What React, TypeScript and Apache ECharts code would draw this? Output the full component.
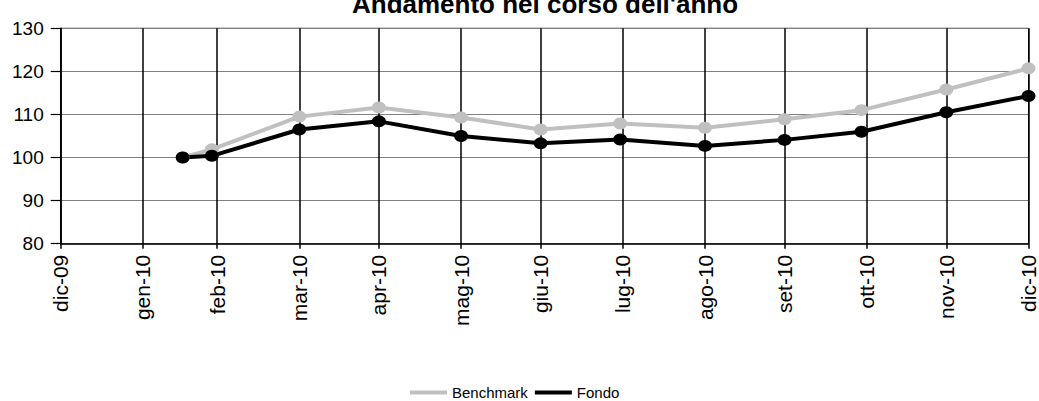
import React, { useEffect, useRef } from "react";
import * as echarts from "echarts";

const titleText = "Andamento nel corso dell'anno";

const pointDates = [
  "2010-02-15", "2010-02-26", "2010-03-31", "2010-04-30", "2010-05-31", "2010-06-30",
  "2010-07-30", "2010-08-31", "2010-09-30", "2010-10-29", "2010-11-30", "2010-12-31",
];
const benchmarkValues = [100, 101.9, 109.5, 111.6, 109.3, 106.5, 107.9, 106.9, 108.9, 111.0, 115.8, 120.7];
const fondoValues = [100, 100.4, 106.5, 108.4, 105.0, 103.3, 104.2, 102.7, 104.1, 106.0, 110.5, 114.3];

const tickDates = [
  "2009-12-31", "2010-01-31", "2010-02-28", "2010-03-31", "2010-04-30", "2010-05-31", "2010-06-30",
  "2010-07-31", "2010-08-31", "2010-09-30", "2010-10-31", "2010-11-30", "2010-12-31",
];
const tickLabels = [
  "dic-09", "gen-10", "feb-10", "mar-10", "apr-10", "mag-10", "giu-10",
  "lug-10", "ago-10", "set-10", "ott-10", "nov-10", "dic-10",
];

const yMin = 80;
const yMax = 130;
const yStep = 10;

// day number (days since 1970-01-01, UTC) so the axis is a plain value axis
function toDay(s: string): number {
  const [y, m, d] = s.split("-").map(Number);
  return Date.UTC(y, m - 1, d) / 86400000;
}

export default function App() {
  const ref = useRef<HTMLDivElement>(null);

  useEffect(() => {
    if (!ref.current) return;
    const chart = echarts.init(ref.current, undefined, { renderer: "svg" });
    const tickDays = tickDates.map(toDay);
    const font = "Liberation Sans";

    chart.setOption({
      animation: false,
      backgroundColor: "#ffffff",
      title: {
        text: titleText,
        left: 347,
        top: -14,
        textStyle: { fontFamily: font, fontSize: 26, fontWeight: "bold", color: "#000" },
      },
      legend: {
        left: 405,
        top: 380,
        icon: "rect",
        itemWidth: 37,
        itemHeight: 4,
        itemGap: 7,
        textStyle: { fontFamily: font, fontSize: 15, color: "#000" },
        data: ["Benchmark", "Fondo"],
      },
      grid: {
        left: 60.7,
        right: 9,
        top: 28.3,
        bottom: 157.3,
        show: true,
        borderColor: "#000",
        borderWidth: 1,
      },
      xAxis: {
        type: "value",
        min: tickDays[0],
        max: tickDays[tickDays.length - 1],
        axisLine: { show: true, onZero: false, lineStyle: { color: "#000", width: 1.5 } },
        axisTick: {
          show: true,
          length: 5,
          inside: false,
          customValues: tickDays,
          lineStyle: { color: "#000", width: 1.5 },
        },
        splitLine: { show: true, lineStyle: { color: "#000", width: 1.5 } },
        axisLabel: {
          customValues: tickDays,
          rotate: 90,
          margin: 11,
          fontFamily: font,
          fontSize: 21,
          color: "#000",
          showMinLabel: true,
          showMaxLabel: true,
          formatter: (val: number) => {
            let best = 0;
            let bd = Infinity;
            tickDays.forEach((t, i) => {
              const d = Math.abs(t - val);
              if (d < bd) { bd = d; best = i; }
            });
            return tickLabels[best];
          },
        },
      },
      yAxis: {
        type: "value",
        min: yMin,
        max: yMax,
        interval: yStep,
        axisLine: { show: true, lineStyle: { color: "#000", width: 1.5 } },
        axisTick: { show: true, length: 10, lineStyle: { color: "#000", width: 1.2 } },
        splitLine: { show: true, lineStyle: { color: "#808080", width: 1.2 } },
        axisLabel: { margin: 17, fontFamily: font, fontSize: 19, color: "#000" },
      },
      series: [
        {
          name: "Benchmark",
          type: "line",
          data: pointDates.map((d, i) => [toDay(d), benchmarkValues[i]]),
          symbol: "circle",
          symbolSize: [14, 12],
          showSymbol: true,
          itemStyle: { color: "#c0c0c0" },
          lineStyle: { color: "#c0c0c0", width: 4 },
        },
        {
          name: "Fondo",
          type: "line",
          data: pointDates.map((d, i) => [toDay(d), fondoValues[i]]),
          symbol: "circle",
          symbolSize: [14, 12],
          showSymbol: true,
          itemStyle: { color: "#000000" },
          lineStyle: { color: "#000000", width: 4 },
        },
      ],
    });

    return () => chart.dispose();
  }, []);

  return (
    <div
      ref={ref}
      style={{ position: "fixed", left: 0, top: 0, width: 1039, height: 401 }}
    />
  );
}
